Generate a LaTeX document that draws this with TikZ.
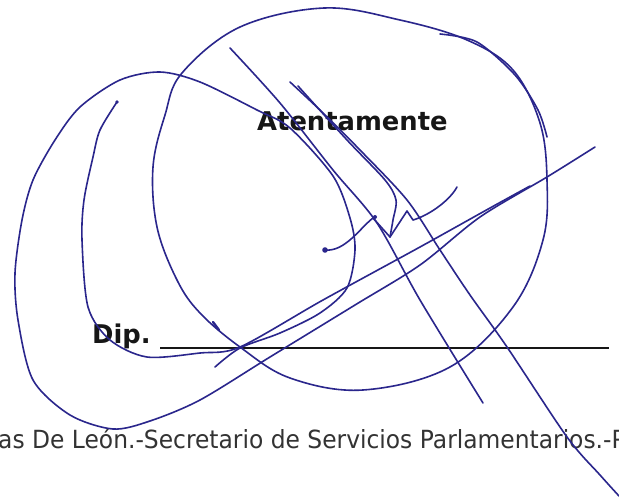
\documentclass[tikz,border=0pt]{standalone}
\usepackage{fontspec}
\setsansfont{DejaVu Sans}
\newfontfamily\piefont[FakeStretch=0.935]{DejaVu Sans}
\usepackage{tikz}
\usetikzlibrary{positioning}
\definecolor{pen}{RGB}{42,38,140}
\definecolor{tinta}{RGB}{22,22,22}
\tikzset{
   ink/.style = {%
    draw=pen,
    line width=1.6pt,% <-- trazo de boligrafo
    line cap=round, line join=round},
   head/.style = {%
    inner sep=0pt,
    text=tinta,
    font=\sffamily\bfseries\fontsize{25.8}{25.8}\selectfont},
   foot/.style = {%
    inner sep=0pt,
    text=black!80,
    font=\piefont\fontsize{25}{25}\selectfont},
   rule/.style = {%
    draw=tinta,
    line width=1.3pt},
    }

\begin{document}
\begin{tikzpicture}[x=1pt,y=-1pt]
    \useasboundingbox (0,0) rectangle (619,496);
    \clip (0,0) rectangle (619,496);
    \fill[white] (0,0) rectangle (619,496);
    % texto impreso
    \node[head, anchor=base west] (atte) at (257,130) {Atentamente};
    \node[head, anchor=base west] (dip) at (92,343) {Dip.};
    \node[foot, anchor=base west] (pie) at (-2,448) {as De León.-Secretario de Servicios Parlamentarios.-P};
    \coordinate (rule-a) at (160,348);
    \coordinate (rule-b) at (609,348);
    \draw[rule] (rule-a) -- (rule-b);
    % firma
    \draw[ink] plot[smooth cycle, tension=0.6] coordinates {(324,8) (400,20) (467,40) (513,70) (540,123) (547,180) (543,240) (513,307) (450,367) (363,390) (290,378) (240,347) (200,313) (177,280) (157,227) (153,167) (165,115) (182,73) (240,27)};
    \draw[ink] plot[smooth] coordinates {(440,34) (477,42) (515,75) (538,110) (547,137)};
    \draw[ink] plot[smooth] coordinates {(595,147) (547,177) (480,217) (420,265) (355,305) (270,357) (200,400) (150,421) (113,429) (70,415) (33,380) (18,320) (15,273) (22,220) (33,180) (55,140) (80,107) (120,80) (160,72) (200,82) (257,110) (290,128) (333,176) (350,218) (355,250) (347,288) (320,313) (280,333) (240,348) (215,367)};
    \draw[ink] plot[smooth] coordinates {(117,102) (100,130) (93,157) (84,200) (82,240) (88,307) (110,340) (147,357) (200,353) (240,347) (323,300) (420,247) (490,208) (530,186)};
    \draw[ink] plot[smooth] coordinates {(230,48) (280,103) (333,170) (377,223) (420,300) (483,403)};
    \draw[ink] plot[smooth] coordinates {(290,82) (322,112) (360,150) (407,200) (440,250) (470,295) (507,347) (567,437) (600,475) (619,496)};
    \draw[ink] plot[smooth] coordinates {(298,86) (347,140) (385,180) (396,200) (393,220) (390,237)};
    \draw[ink] (325,250) .. controls (345,252) and (360,228) .. (373,218) -- (390,237) -- (407,211) -- (413,220) .. controls (430,215) and (450,200) .. (457,187);
    % puntos del trazo
    \fill[pen] (325,250) circle (2.8);
    \fill[pen] (117,102) circle (1.8);
    \fill[pen] (375,217) circle (2);
    \draw[ink, line width=2.4pt] (213,322) -- (219,330);
\end{tikzpicture}
\end{document}
